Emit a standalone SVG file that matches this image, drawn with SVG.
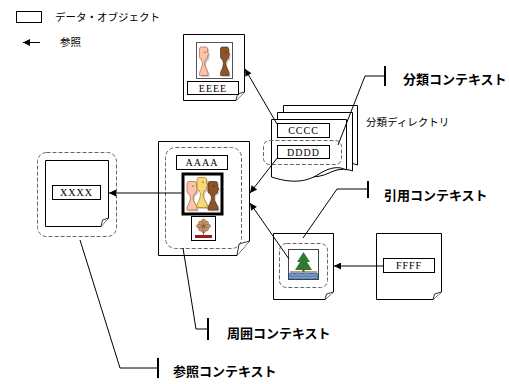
<svg xmlns="http://www.w3.org/2000/svg" xmlns:xlink="http://www.w3.org/1999/xlink" width="509" height="384" viewBox="0 0 509 384">
  <style>
    .doc { fill: #fff; stroke: #000; stroke-width: 1; }
    .fold { fill: #fff; stroke: #000; stroke-width: 0.8; }
    .box { fill: #fff; stroke: #000; stroke-width: 1; }
    .ctx { fill: none; stroke: #666; stroke-width: 1; stroke-dasharray: 4 2; }
    .lbl { font-family: "Liberation Serif", serif; font-size: 10px; letter-spacing: 1px; fill: #000; }
    .jp { font-family: "Noto Sans CJK JP", sans-serif; font-size: 10.5px; fill: #000; }
    .ctxname { font-family: "Noto Sans CJK JP", sans-serif; font-size: 13px; font-weight: 700; fill: #000; }
    .ref { fill: none; stroke: #000; stroke-width: 1; marker-end: url(#arrow); }
    .leader { fill: none; stroke: #000; stroke-width: 1; }
    .bar { stroke: #000; stroke-width: 2; }
  </style>
  <defs>
    <marker id="arrow" viewBox="0 0 10 10" refX="10" refY="5" markerWidth="9" markerHeight="7" markerUnits="userSpaceOnUse" orient="auto">
      <path d="M0,0 L10,5 L0,10 Z" fill="#000"/>
    </marker>
    <!-- person silhouette, profile facing right, 10 x 30 -->
    <path id="person" d="M2,0 H7.5 Q9.5,0 9.5,2 V6 L11,8 L9.5,9 V11 Q9.5,12.5 7.5,13 L6.5,15 Q5.5,17 6.5,20 L8.5,24 Q10,26 10,28 V30 H0 V28 Q0,26 1.5,24 L3,20 Q4,17 3,15 L2,13 Q0,12.5 0,10.5 V2 Q0,0 2,0 Z"/>
  </defs>

  <!-- legend -->
  <g id="legend">
    <rect x="16.5" y="11.5" width="25" height="11" fill="#fff" stroke="#000"/>
    <text class="jp" x="55" y="21">データ・オブジェクト</text>
    <line x1="40" y1="42.5" x2="23" y2="42.5" class="ref"/>
    <text class="jp" x="60" y="46">参照</text>
  </g>

  <!-- EEEE document -->
  <g id="doc-eeee">
    <path class="doc" d="M183.5,34.5 H244.5 V92 L236,100.5 H183.5 Z"/>
    <path class="fold" d="M236,100.5 L237.5,94 L244.5,92"/>
    <rect x="196.5" y="42.5" width="36" height="36" fill="#fff" stroke="#555"/>
    <use xlink:href="#person" transform="translate(201,48.5) scale(0.85,0.95)" fill="#999" opacity="0.5"/>
    <use xlink:href="#person" transform="translate(199.5,47) scale(0.85,0.95)" fill="#F8C4AC" stroke="#B06848" stroke-width="0.8"/>
    <circle cx="205" cy="52" r="0.6" fill="#000"/>
    <use xlink:href="#person" transform="translate(222,48.5) scale(0.85,0.95)" fill="#999" opacity="0.5"/>
    <use xlink:href="#person" transform="translate(220.5,47) scale(0.85,0.95)" fill="#8E5428" stroke="#5A3216" stroke-width="0.8"/>
    <circle cx="226" cy="52" r="0.6" fill="#000"/>
    <rect class="box" x="187.5" y="81.5" width="51" height="13"/>
    <text class="lbl" x="213" y="91.5" text-anchor="middle">EEEE</text>
  </g>

  <!-- classification directory (stacked pages) -->
  <g id="dir-cccc">
    <path class="doc" d="M283.5,105.5 H357.5 V165 C350,162 342,163 334,167 C322,173 305,172 283.5,166 Z"/>
    <path class="doc" d="M277.5,112.5 H352.5 V171 C345,168 337,169 329,173 C317,179 300,178 277.5,172 Z"/>
    <path class="doc" d="M271.5,119.5 H346.5 V170 C339,166 330,167 319,174 C305,183 290,183 271.5,177 Z"/>
    <rect class="box" x="277.5" y="123.5" width="52" height="14"/>
    <text class="lbl" x="303.5" y="134" text-anchor="middle">CCCC</text>
    <rect class="ctx" x="263.5" y="140.5" width="78" height="24" rx="6"/>
    <rect class="box" x="277.5" y="145.5" width="52" height="13"/>
    <text class="lbl" x="303.5" y="155.5" text-anchor="middle">DDDD</text>
    <text class="jp" x="366" y="126">分類ディレクトリ</text>
  </g>

  <!-- XXXX document -->
  <g id="doc-xxxx">
    <rect class="ctx" x="37.5" y="152.5" width="79" height="84" rx="9"/>
    <path class="doc" d="M45.5,160.5 H108.5 V218 L101,226.5 H45.5 Z"/>
    <path class="fold" d="M101,226.5 L102.5,220 L108.5,218"/>
    <rect class="box" x="52.5" y="185.5" width="48" height="14"/>
    <text class="lbl" x="76.5" y="196" text-anchor="middle">XXXX</text>
  </g>

  <!-- AAAA document -->
  <g id="doc-aaaa">
    <path class="doc" d="M158.5,141.5 H249.5 V241 L237,255.5 H158.5 Z"/>
    <path class="fold" d="M237,255.5 L239,244 L249.5,241"/>
    <rect class="ctx" x="165.5" y="147.5" width="76" height="101" rx="10"/>
    <rect class="box" x="176.5" y="155.5" width="51" height="14"/>
    <text class="lbl" x="202" y="166" text-anchor="middle">AAAA</text>
    <rect x="183" y="174" width="39" height="40" fill="#fff" stroke="#000" stroke-width="3"/>
    <use xlink:href="#person" transform="translate(188.5,183) scale(1,0.95)" fill="#999" opacity="0.5"/>
    <use xlink:href="#person" transform="translate(187,181.5) scale(1,0.95)" fill="#F8C4AC" stroke="#B06848" stroke-width="0.8"/>
    <use xlink:href="#person" transform="translate(198.5,179) scale(1,1.0)" fill="#999" opacity="0.5"/>
    <use xlink:href="#person" transform="translate(197,177.5) scale(1,1.0)" fill="#F8D878" stroke="#B08828" stroke-width="0.8"/>
    <use xlink:href="#person" transform="translate(209.5,183) scale(1,0.95)" fill="#999" opacity="0.5"/>
    <use xlink:href="#person" transform="translate(208,181.5) scale(1,0.95)" fill="#8E5428" stroke="#5A3216" stroke-width="0.8"/>
    <circle cx="193" cy="186" r="0.6" fill="#000"/>
    <circle cx="203" cy="182" r="0.6" fill="#000"/>
    <circle cx="214" cy="186" r="0.6" fill="#000"/>
    <!-- flower picture -->
    <rect x="191.5" y="216.5" width="24" height="24" fill="#fff" stroke="#000"/>
    <g fill="#C89868" stroke="#7A5030" stroke-width="0.5">
      <ellipse cx="203.5" cy="222" rx="2" ry="3"/>
      <ellipse cx="203.5" cy="230" rx="2" ry="3"/>
      <ellipse cx="199.5" cy="226" rx="3" ry="2"/>
      <ellipse cx="207.5" cy="226" rx="3" ry="2"/>
      <ellipse cx="200.5" cy="223" rx="2" ry="2"/>
      <ellipse cx="206.5" cy="223" rx="2" ry="2"/>
      <ellipse cx="200.5" cy="229" rx="2" ry="2"/>
      <ellipse cx="206.5" cy="229" rx="2" ry="2"/>
    </g>
    <circle cx="203.5" cy="226" r="1.6" fill="#8A5A2A"/>
    <line x1="203.5" y1="231" x2="203.5" y2="235" stroke="#6A4A2A" stroke-width="0.8"/>
    <rect x="195" y="235" width="17" height="3" fill="#A01818"/>
  </g>

  <!-- tree picture document -->
  <g id="doc-tree">
    <path class="doc" d="M273.5,233.5 H333.5 V292 L325,299.5 H273.5 Z"/>
    <path class="fold" d="M325,299.5 L326.5,294 L333.5,292"/>
    <rect class="ctx" x="279.5" y="243.5" width="48" height="44" rx="7"/>
    <rect x="288.5" y="249.5" width="30" height="30" fill="#fff" stroke="#444"/>
    <path d="M303.5,252 L297,262 H300 L295,270 H312 L307,262 H310 Z" fill="#2E7A30"/>
    <rect x="302.5" y="269" width="2" height="3" fill="#6A4020"/>
    <line x1="290" y1="272" x2="317" y2="272" stroke="#8A5A30" stroke-width="1.2"/>
    <rect x="289" y="273" width="29" height="6" fill="#4A78B8"/>
    <path d="M289,275 q2,-1 4,0 t4,0 t4,0 t4,0 t4,0 t4,0 t4,0 M289,277.5 q2,-1 4,0 t4,0 t4,0 t4,0 t4,0 t4,0 t4,0" fill="none" stroke="#C8D8F0" stroke-width="0.6"/>
  </g>

  <!-- FFFF document -->
  <g id="doc-ffff">
    <path class="doc" d="M376.5,233.5 H441.5 V292 L433,299.5 H376.5 Z"/>
    <path class="fold" d="M433,299.5 L434.5,294 L441.5,292"/>
    <rect class="box" x="383.5" y="258.5" width="51" height="14"/>
    <text class="lbl" x="409" y="269" text-anchor="middle">FFFF</text>
  </g>

  <!-- reference connectors -->
  <g id="connectors">
    <line class="ref" x1="277" y1="124" x2="245" y2="69"/>
    <line class="ref" x1="278" y1="157" x2="250" y2="193"/>
    <line class="ref" x1="289" y1="259" x2="250" y2="203"/>
    <line class="ref" x1="183" y1="193" x2="109" y2="193"/>
    <line class="ref" x1="383" y1="266" x2="334" y2="266"/>
  </g>

  <!-- context callouts -->
  <g id="callout-classification">
    <polyline class="leader" points="338,145 365,76 385,76"/>
    <line class="bar" x1="385" y1="66" x2="385" y2="86"/>
    <text class="ctxname" x="403" y="84">分類コンテキスト</text>
  </g>
  <g id="callout-citation">
    <polyline class="leader" points="303,238 337,189 368,189"/>
    <line class="bar" x1="368" y1="181" x2="368" y2="198"/>
    <text class="ctxname" x="384" y="200">引用コンテキスト</text>
  </g>
  <g id="callout-surrounding">
    <polyline class="leader" points="183,248 196,329 208,329"/>
    <line class="bar" x1="208" y1="318" x2="208" y2="340"/>
    <text class="ctxname" x="227" y="338">周囲コンテキスト</text>
  </g>
  <g id="callout-reference">
    <polyline class="leader" points="80,240 120,368 158,368"/>
    <line class="bar" x1="158" y1="358" x2="158" y2="378"/>
    <text class="ctxname" x="173" y="376">参照コンテキスト</text>
  </g>
</svg>
